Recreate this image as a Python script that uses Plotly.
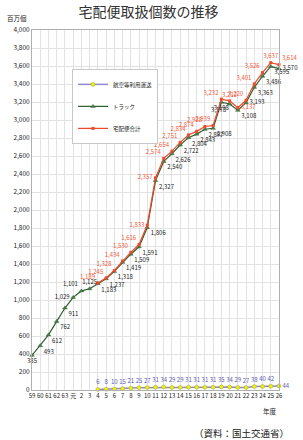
import plotly.graph_objects as go

years = ["59", "60", "61", "62", "63", "元", "2", "3", "4", "5", "6", "7", "8", "9", "10",
         "11", "12", "13", "14", "15", "16", "17", "18", "19", "20", "21", "22", "23", "24",
         "25", "26"]

truck = [385, 493, 612, 762, 911, 1029, 1101, 1125, 1183, 1237, 1318, 1419, 1509, 1591,
         1806, 2327, 2540, 2626, 2722, 2804, 2843, 2897, 2908, 3198, 3178, 3108, 3193,
         3363, 3486, 3595, 3570]

air_years = years[8:]
air = [6, 8, 10, 15, 21, 25, 27, 31, 34, 29, 29, 31, 31, 31, 31, 35, 34, 29, 27, 38, 40, 42, 44]

total_years = years[8:]
total = [1189, 1245, 1328, 1434, 1530, 1616, 1833, 2357, 2574, 2654, 2751, 2834, 2874,
         2928, 2939, 3232, 3212, 3137, 3220, 3401, 3526, 3637, 3614]

FONT = "Noto Sans CJK JP"

def fmt(v):
    return f"{v:,}"

truck_pos = (["bottom center"] + ["bottom right"] * 4 + ["middle left", "top left", "top center"]
             + ["bottom right"] * 15 + ["bottom center", "bottom left", "bottom right",
                                         "middle right", "bottom right", "bottom right",
                                         "bottom right", "middle right"])
total_pos = (["top left"] * 6 + ["middle left", "middle left"] + ["top left"] * 7
             + ["top left", "top center", "middle right", "top left", "top left", "top left",
                "top center", "top right"])
air_pos = ["top center"] * 22 + ["middle right"]

fig = go.Figure()

fig.add_trace(go.Scatter(
    x=air_years, y=air, name="航空等利用運送", mode="lines+markers+text",
    line=dict(color="#8C8CD0", width=1.5),
    marker=dict(symbol="circle", size=4, color="#F0F000", line=dict(color="#A0A040", width=0.5)),
    text=[str(v) for v in air], textposition=air_pos,
    textfont=dict(family=FONT, size=6, color="#5A5AB0"),
    legendgroup="a", cliponaxis=False,
))
fig.add_trace(go.Scatter(
    x=years, y=truck, name="トラック", mode="lines+markers+text",
    line=dict(color="#2F5F2F", width=1.2),
    marker=dict(symbol="triangle-up", size=4, color="#4F7F4F", line=dict(color="#2F5F2F", width=0.5)),
    text=[fmt(v) for v in truck], textposition=truck_pos,
    textfont=dict(family=FONT, size=6, color="#222222"),
    legendgroup="b", cliponaxis=False,
))
fig.add_trace(go.Scatter(
    x=total_years, y=total, name="宅配便合計", mode="lines+markers+text",
    line=dict(color="#F04828", width=1.2),
    marker=dict(symbol="square", size=3, color="#F04828"),
    text=[fmt(v) for v in total], textposition=total_pos,
    textfont=dict(family=FONT, size=6, color="#F05A3A"),
    legendgroup="c", cliponaxis=False,
))

fig.update_layout(
    width=303, height=440,
    margin=dict(l=32, r=24, t=30, b=50),
    paper_bgcolor="white", plot_bgcolor="white",
    font=dict(family=FONT, size=7, color="#222222"),
    title=dict(text="宅配便取扱個数の推移", x=0.49, xanchor="center", y=0.973, yanchor="middle",
               font=dict(family=FONT, size=14, color="#333333")),
    showlegend=True,
    legend=dict(x=0.162, y=0.892, xanchor="left", yanchor="top",
                bgcolor="white", bordercolor="#C8C8C8", borderwidth=1,
                font=dict(family=FONT, size=5.5, color="#222222"),
                tracegroupgap=3, itemwidth=30),
    xaxis=dict(type="category", categoryorder="array", categoryarray=years,
               range=[0, 30], showgrid=True, gridcolor="#E2E2E2", gridwidth=1,
               showline=True, linecolor="#B0B0B0", mirror=True, ticks="",
               tickfont=dict(family=FONT, size=6, color="#222222"), tickangle=0),
    yaxis=dict(range=[0, 4000], dtick=200, tickformat=",d", showgrid=True,
               gridcolor="#E2E2E2", gridwidth=1, showline=True, linecolor="#B0B0B0",
               mirror=True, ticks="", zeroline=False,
               tickfont=dict(family=FONT, size=6.5, color="#222222")),
    annotations=[
        dict(text="百万個", x=-0.11, y=1.034, xref="paper", yref="paper", showarrow=False,
             font=dict(family=FONT, size=6.5, color="#222222"), xanchor="left", yanchor="middle"),
        dict(text="年度", x=1, y=-0.04, xref="paper", yref="paper", showarrow=False,
             font=dict(family=FONT, size=6.5, color="#222222"), xanchor="right", yanchor="top"),
        dict(text="（資料：国土交通省）", x=1.05, y=-0.095, xref="paper", yref="paper",
             showarrow=False, font=dict(family=FONT, size=9.5, color="#222222"),
             xanchor="right", yanchor="top"),
    ],
)

fig.write_html("out.html")
